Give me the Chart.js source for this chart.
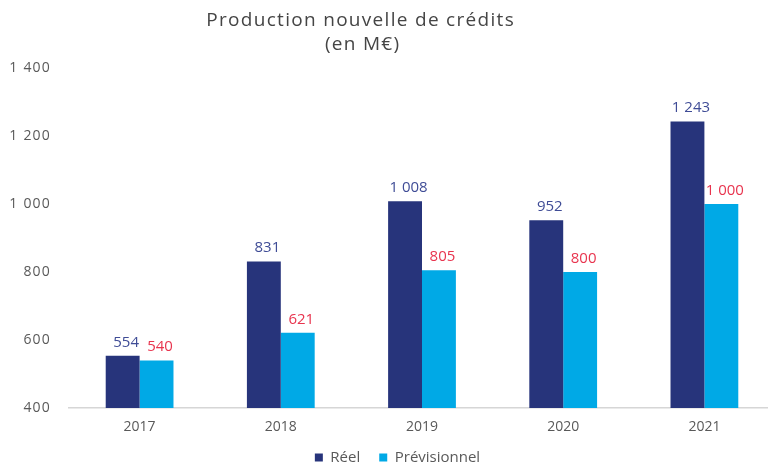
<!DOCTYPE html>
<html>
<head>
<meta charset="utf-8">
<script src="https://cdn.jsdelivr.net/npm/chart.js@4.4.1/dist/chart.umd.min.js"></script>
<style>
  html, body { margin: 0; padding: 0; background: #ffffff; overflow: hidden; }
  #wrap { width: 776px; height: 467px; position: relative; }
</style>
</head>
<body>
<div id="wrap"><canvas id="c" width="776" height="467"></canvas></div>
<script>
const categories = ['2017', '2018', '2019', '2020', '2021'];
const reel = [554, 831, 1008, 952, 1243];
const previsionnel = [540, 621, 805, 800, 1000];
const seriesNames = ['Réel', 'Prévisionnel'];
const titleLines = ['Production nouvelle de crédits', '(en M€)'];
const yTicks = [400, 600, 800, 1000, 1200, 1400];

const FONT = "'Open Sans', sans-serif";
function fmt(v) { return String(v).replace(/\B(?=(\d{3})+(?!\d))/g, ' '); }

const titlePlugin = {
  id: 'customTitle',
  afterDraw(chart) {
    const ctx = chart.ctx;
    ctx.save();
    ctx.fillStyle = '#454545';
    ctx.font = '19px ' + FONT;
    ctx.textAlign = 'left';
    ctx.textBaseline = 'alphabetic';
    const sp = 1.3;
    if ('letterSpacing' in ctx) ctx.letterSpacing = sp + 'px';
    const centers = [360, 362];
    const baselines = [26, 50];
    titleLines.forEach((t, i) => {
      const w = ctx.measureText(t).width - sp;
      ctx.fillText(t, centers[i] - w / 2, baselines[i]);
    });
    ctx.restore();
  }
};

const labelColors = ['#3f4c96', '#e8344e'];
const valueLabels = {
  id: 'valueLabels',
  afterDatasetsDraw(chart) {
    const ctx = chart.ctx;
    ctx.save();
    ctx.font = '15px ' + FONT;
    ctx.textAlign = 'center';
    ctx.textBaseline = 'alphabetic';
    chart.data.datasets.forEach((ds, di) => {
      const meta = chart.getDatasetMeta(di);
      ctx.fillStyle = labelColors[di];
      meta.data.forEach((el, i) => {
        ctx.fillText(fmt(ds.data[i]), el.x + 3.5, el.y - 9);
      });
    });
    ctx.restore();
  }
};

const tweaks = {
  id: 'tweaks',
  beforeLayout(chart) {
    const lg = chart.legend;
    if (lg && !lg._patched) {
      const orig = lg.fit.bind(lg);
      lg.fit = function () { orig(); this.height = 36; };
      lg._patched = true;
    }
  },
  afterLayout(chart) {
    const lg = chart.legend;
    if (lg) { lg.left += 10; lg.right += 10; }
    const s = chart.scales.y;
    if (s && !s._patched) {
      const o = s.drawLabels.bind(s);
      s.drawLabels = function (a) {
        const c = this.ctx;
        const prev = c.letterSpacing;
        if ('letterSpacing' in c) c.letterSpacing = '1.2px';
        o(a);
        if ('letterSpacing' in c) c.letterSpacing = prev;
      };
      s._patched = true;
    }
  }
};

new Chart(document.getElementById('c'), {
  type: 'bar',
  data: {
    labels: categories,
    datasets: [
      { label: seriesNames[0], data: reel, backgroundColor: '#27347b', categoryPercentage: 0.48, barPercentage: 1.0 },
      { label: seriesNames[1], data: previsionnel, backgroundColor: '#00a9e6', categoryPercentage: 0.48, barPercentage: 1.0 }
    ]
  },
  options: {
    responsive: false,
    animation: false,
    layout: { padding: { top: 68, left: 0, right: 1, bottom: 0 } },
    plugins: {
      title: { display: false },
      tooltip: { enabled: false },
      legend: {
        position: 'bottom',
        labels: {
          usePointStyle: true,
          pointStyle: 'rect',
          boxWidth: 8,
          boxHeight: 8,
          padding: 19,
          color: '#595959',
          font: { family: FONT, size: 15 }
        }
      }
    },
    scales: {
      x: {
        grid: { display: false, drawTicks: false },
        border: { display: true, color: '#d6d6d6', width: 1.5 },
        ticks: { color: '#595959', font: { family: FONT, size: 14 }, padding: 11 },
        afterFit(scale) { scale.height = 23; }
      },
      y: {
        min: 400,
        max: 1400,
        afterBuildTicks(scale) { scale.ticks = yTicks.map(v => ({ value: v })); },
        grid: { display: false, drawTicks: false },
        border: { display: false },
        ticks: {
          color: '#595959',
          font: { family: FONT, size: 14 },
          padding: 18,
          callback: (v) => fmt(v)
        },
        afterFit(scale) { scale.width = 69; }
      }
    }
  },
  plugins: [titlePlugin, valueLabels, tweaks]
});
</script>
</body>
</html>
